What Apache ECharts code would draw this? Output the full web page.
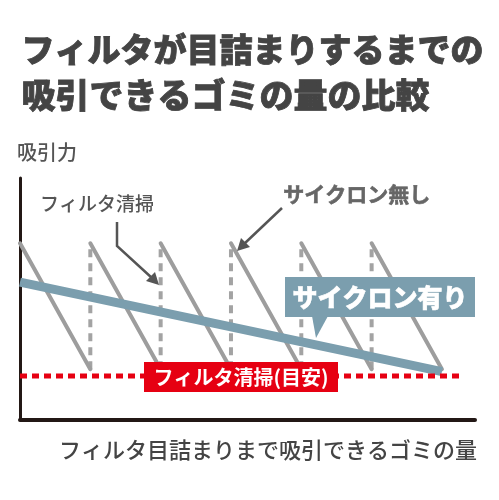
<!DOCTYPE html>
<html><head><meta charset="utf-8">
<script src="https://cdn.jsdelivr.net/npm/echarts@6/dist/echarts.min.js"></script>
<style>html,body{margin:0;padding:0;background:#fff}#c{width:499px;height:500px}</style>
</head><body><div id="c"></div>
<script>
// data
const toothStartX = [0, 1, 2, 3, 4, 5];
const toothEndX = [1, 2, 3, 4, 5, 6];
const toothTop = 73;
const toothBottom = 21;
const cleaningX = [1, 2, 3, 4, 5];
const cycloneX = [0, 6];
const cycloneY = [57, 20];
const guideX = [0, 6.3];
const guideY = 18.2;

const F = '"Noto Sans CJK JP", "Noto Sans", sans-serif';
const series = [];
toothStartX.forEach((x, i) => {
  series.push({type: 'line', silent: true, symbol: 'none', z: 2,
    lineStyle: {color: '#9d9d9d', width: 4, cap: 'round'},
    data: [[x, toothTop], [toothEndX[i], toothBottom]]});
});
cleaningX.forEach(x => {
  series.push({type: 'line', silent: true, symbol: 'none', z: 1,
    lineStyle: {color: '#a3a3a3', width: 4, type: [8, 6]},
    data: [[x, toothBottom], [x, toothTop - 2]]});
});
series.push({type: 'line', silent: true, symbol: 'none', z: 3,
  lineStyle: {color: '#7b9eae', width: 9, cap: 'butt'},
  data: cycloneX.map((x, i) => [x, cycloneY[i]])});
series.push({type: 'line', silent: true, symbol: 'none', z: 3,
  lineStyle: {color: '#e60012', width: 5, type: [7, 5]},
  data: guideX.map(x => [x, guideY])});

const chart = echarts.init(document.getElementById('c'));
chart.setOption({
  animation: false,
  grid: {left: 20, right: 24, top: 178, bottom: 80},
  xAxis: {type: 'value', min: 0, max: 6.47, axisLine: {show: true, lineStyle: {color: '#231815', width: 4}},
    axisTick: {show: false}, axisLabel: {show: false}, splitLine: {show: false}},
  yAxis: {type: 'value', min: 0, max: 100, axisLine: {show: true, lineStyle: {color: '#231815', width: 3}},
    axisTick: {show: false}, axisLabel: {show: false}, splitLine: {show: false}},
  series: series,
  graphic: [
    {type: 'text', left: 21, top: 33, style: {text: 'フィルタが目詰まりするまでの', font: '900 33px ' + F, fill: '#444', stroke: '#444', lineWidth: 0.8}},
    {type: 'text', left: 21, top: 78, style: {text: '吸引できるゴミの量の比較', font: '900 34px ' + F, fill: '#444', stroke: '#444', lineWidth: 0.8}},
    {type: 'text', left: 17, top: 142, style: {text: '吸引力', font: '500 20px ' + F, fill: '#555'}},
    {type: 'text', left: 40, top: 194, style: {text: 'フィルタ清掃', font: '500 19px ' + F, fill: '#555'}},
    {type: 'text', left: 283, top: 183, style: {text: 'サイクロン無し', font: '700 21px ' + F, fill: '#666', stroke: '#666', lineWidth: 0.6}},
    {type: 'polyline', shape: {points: [[117, 222], [117, 246], [152, 278]]}, style: {stroke: '#555', lineWidth: 2.5, fill: null}, z: 10},
    {type: 'polygon', shape: {points: [[159, 285], [146, 281], [155, 272]]}, style: {fill: '#555'}, z: 10},
    {type: 'line', shape: {x1: 282, y1: 208, x2: 244, y2: 244}, style: {stroke: '#555', lineWidth: 2.5}, z: 10},
    {type: 'polygon', shape: {points: [[237, 251], [241, 238], [250, 247]]}, style: {fill: '#555'}, z: 10},
    {type: 'rect', shape: {x: 285, y: 277, width: 190, height: 40}, style: {fill: '#7b9eae'}, z: 10},
    {type: 'polygon', shape: {points: [[312, 316], [328, 316], [316, 338]]}, style: {fill: '#7b9eae'}, z: 10},
    {type: 'text', x: 380, y: 297, style: {text: 'サイクロン有り', font: '900 25px ' + F, fill: '#fff', stroke: '#fff', lineWidth: 0.6, align: 'center', verticalAlign: 'middle'}, z: 11},
    {type: 'rect', shape: {x: 144, y: 362, width: 194, height: 30}, style: {fill: '#e60012'}, z: 10},
    {type: 'text', x: 241, y: 377, style: {text: 'フィルタ清掃(目安)', font: '700 20px ' + F, fill: '#fff', align: 'center', verticalAlign: 'middle'}, z: 11},
    {type: 'text', x: 477, y: 450, style: {text: 'フィルタ目詰まりまで吸引できるゴミの量', font: '500 22px ' + F, fill: '#444', align: 'right', verticalAlign: 'middle'}}
  ]
});
</script></body></html>
